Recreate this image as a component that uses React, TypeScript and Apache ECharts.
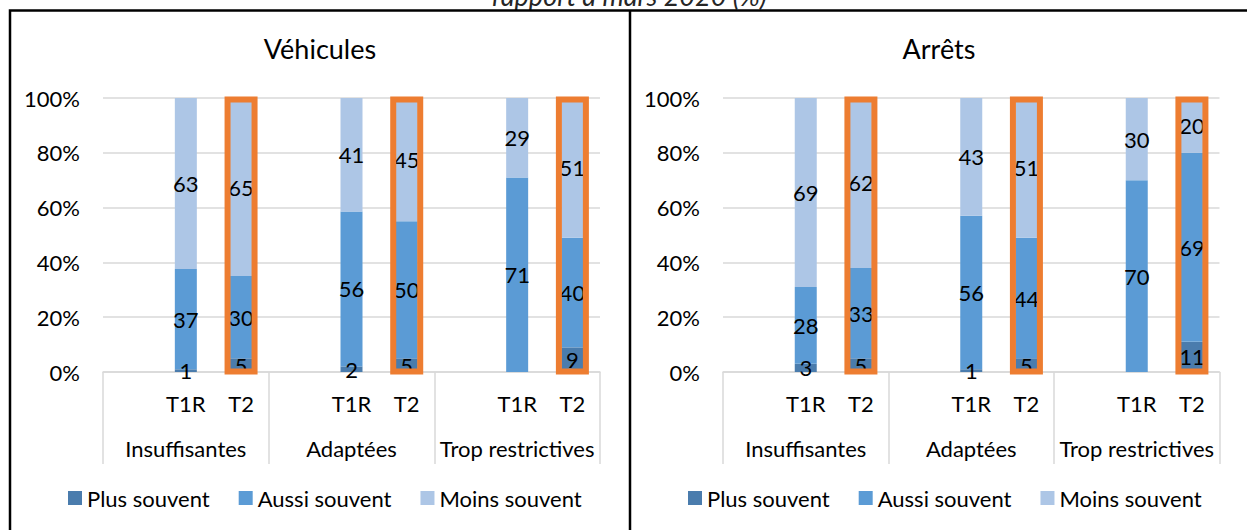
import React, { useEffect, useRef } from 'react';
import * as echarts from 'echarts';

const FONT = 'Lato, "Open Sans", sans-serif';

const supTitle = 'rapport à mars 2020 (%)';
const panelTitles = ['Véhicules', 'Arrêts'];
const groups = ['Insuffisantes', 'Adaptées', 'Trop restrictives'];
const periods = ['T1R', 'T2'];
const highlightedPeriod = 'T2';
const seriesNames = ['Plus souvent', 'Aussi souvent', 'Moins souvent'];

// order: Insuffisantes T1R, T2, Adaptées T1R, T2, Trop restrictives T1R, T2
const vehPlus = [1, 5, 2, 5, 0, 9];
const vehAussi = [37, 30, 56, 50, 71, 40];
const vehMoins = [63, 65, 41, 45, 29, 51];

const arrPlus = [3, 5, 1, 5, 0, 11];
const arrAussi = [28, 33, 56, 44, 70, 69];
const arrMoins = [69, 62, 43, 51, 30, 20];

const colors = ['#4a7cad', '#5b9bd5', '#adc6e6'];
const frameColor = '#ed7d31';
const gridColor = '#d9d9d9';

const slots = ['', ...periods];
const categories = groups.flatMap((g) => slots.map((s) => `${g}|${s}`));

function buildPanel(values: number[][], pi: number) {
  const totals = values[0].map((_, k) => values.reduce((s, arr) => s + arr[k], 0));
  const bars = values.map((arr, si) => ({
    type: 'bar',
    name: seriesNames[si],
    stack: 'panel' + pi,
    xAxisIndex: pi * 2,
    yAxisIndex: pi,
    barWidth: 22,
    itemStyle: { color: colors[si] },
    label: {
      show: true,
      position: 'inside',
      color: '#000',
      fontSize: 22,
      fontFamily: FONT,
      formatter: (p: any) => (p.data && p.data.raw > 0 ? String(p.data.raw) : ''),
    },
    data: categories.map((c, i) => {
      const slot = i % slots.length;
      if (slot === 0) return '-';
      const k = Math.floor(i / slots.length) * periods.length + slot - 1;
      return { value: (arr[k] / totals[k]) * 100, raw: arr[k] };
    }),
  }));
  const frame = {
    type: 'custom',
    xAxisIndex: pi * 2,
    yAxisIndex: pi,
    silent: true,
    clip: false,
    z: 5,
    encode: { x: 0, y: 1 },
    data: categories
      .map((c, i) => (c.endsWith('|' + highlightedPeriod) ? [i, 100] : null))
      .filter((d) => d !== null),
    renderItem: (params: any, api: any) => {
      const idx = api.value(0);
      const top = api.coord([idx, api.value(1)]);
      const bot = api.coord([idx, 0]);
      const w = 27;
      return {
        type: 'rect',
        shape: { x: top[0] - w / 2, y: top[1] + 1.5, width: w, height: bot[1] - top[1] - 2 },
        style: { fill: 'none', stroke: frameColor, lineWidth: 6 },
      };
    },
  };
  return [...bars, frame];
}

const textStyle = { fontSize: 22, color: '#000', fontFamily: FONT };

function xAxes(gi: number) {
  return [
    {
      gridIndex: gi,
      type: 'category',
      position: 'bottom',
      data: categories,
      axisLine: { show: true, lineStyle: { color: gridColor, width: 1.5 } },
      axisTick: { show: false },
      axisLabel: { ...textStyle, interval: 0, margin: 20, formatter: (v: string) => v.split('|')[1] },
      splitLine: { show: false },
    },
    {
      gridIndex: gi,
      type: 'category',
      position: 'bottom',
      data: groups,
      axisLine: { show: false },
      axisTick: { show: true, interval: 0, length: 92, lineStyle: { color: gridColor, width: 1.5 } },
      axisLabel: { ...textStyle, interval: 0, margin: 65 },
      splitLine: { show: false },
    },
  ];
}

function yAxis(gi: number) {
  return {
    gridIndex: gi,
    type: 'value',
    min: 0,
    max: 100,
    interval: 20,
    axisLine: { show: false },
    axisTick: { show: false },
    axisLabel: { ...textStyle, margin: 23, formatter: '{value}%' },
    splitLine: { show: true, lineStyle: { color: gridColor, width: 1.5 } },
  };
}

function legend(left: number) {
  return {
    data: seriesNames,
    left,
    top: 482,
    orient: 'horizontal',
    icon: 'rect',
    itemWidth: 14,
    itemHeight: 14,
    itemGap: 29,
    selectedMode: false,
    textStyle: { ...textStyle },
  };
}

export default function App() {
  const ref = useRef<HTMLDivElement>(null);
  useEffect(() => {
    if (!ref.current) return;
    const chart = echarts.init(ref.current, undefined, { renderer: 'svg' });
    const option: any = {
      animation: false,
      backgroundColor: '#fff',
      grid: [
        { left: 103, right: 647, top: 98, bottom: 158, outerBoundsMode: 'none' },
        { left: 723, right: 27.5, top: 98, bottom: 158, outerBoundsMode: 'none' },
      ],
      xAxis: [...xAxes(0), ...xAxes(1)],
      yAxis: [yAxis(0), yAxis(1)],
      legend: [legend(63), legend(683)],
      series: [
        ...buildPanel([vehPlus, vehAussi, vehMoins], 0),
        ...buildPanel([arrPlus, arrAussi, arrMoins], 1),
      ],
      graphic: [
        {
          type: 'text',
          x: 629.5,
          y: -5,
          style: {
            text: supTitle,
            align: 'center',
            verticalAlign: 'middle',
            fontSize: 27,
            fontStyle: 'italic',
            fontFamily: FONT,
            fill: '#262626',
          },
        },
        {
          type: 'text',
          x: 320,
          y: 48,
          style: { text: panelTitles[0], align: 'center', verticalAlign: 'middle', fontSize: 27, fontFamily: FONT, fill: '#000' },
        },
        {
          type: 'text',
          x: 939,
          y: 48,
          style: { text: panelTitles[1], align: 'center', verticalAlign: 'middle', fontSize: 27, fontFamily: FONT, fill: '#000' },
        },
        {
          type: 'polyline',
          shape: { points: [[10, 530], [10, 10.5], [1247, 10.5]] },
          style: { stroke: '#000', lineWidth: 2.5, fill: 'none' },
        },
        {
          type: 'line',
          shape: { x1: 630, y1: 10.5, x2: 630, y2: 530 },
          style: { stroke: '#000', lineWidth: 2.5 },
        },
      ],
    };
    chart.setOption(option);
    return () => chart.dispose();
  }, []);
  return (
    <div
      ref={ref}
      style={{ position: 'absolute', left: 0, top: 0, width: 1247, height: 530, background: '#fff' }}
    />
  );
}
